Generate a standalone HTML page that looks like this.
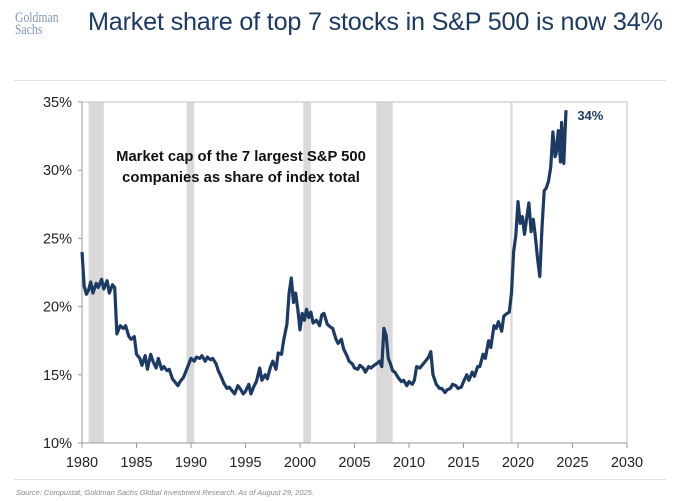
<!DOCTYPE html>
<html><head><meta charset="utf-8"><style>
body{margin:0;background:#fff;width:680px;height:501px;overflow:hidden;position:relative;font-family:"Liberation Sans",sans-serif}
.abs{position:absolute}
</style></head><body>
<div class="abs" style="left:15px;top:12px;font-family:'Liberation Serif',serif;color:#8198bb;font-size:15px;line-height:12px;transform:scaleX(0.78);transform-origin:left top">Goldman<br>Sachs</div>
<div class="abs" style="left:88px;top:8px;font-size:25.2px;color:#1c3a63;letter-spacing:-0.2px">Market share of top 7 stocks in S&amp;P 500 is now 34%</div>
<div class="abs" style="left:14px;top:80px;width:652px;height:1px;background:#e3e3e3"></div>
<div class="abs" style="left:14px;top:479px;width:652px;height:1px;background:#e3e3e3"></div>
<div class="abs" style="left:16px;top:488px;font-size:7.5px;font-style:italic;color:#888">Source: Compustat, Goldman Sachs Global Investment Research. As of August 29, 2025.</div>
<svg class="abs" style="left:0;top:0" width="680" height="501" id="chart"></svg>
<script>
const xTicks=[1980,1985,1990,1995,2000,2005,2010,2015,2020,2025,2030];
const yTicks=[10,15,20,25,30,35];
const recessionStart=[1980.6,1989.6,2000.3,2007.0,2019.3];
const recessionEnd=[1982.0,1990.3,2001.0,2008.5,2019.5];
const years=[1980.0,1980.2,1980.4,1980.6,1980.8,1981,1981.3,1981.5,1981.8,1982,1982.3,1982.5,1982.8,1983,1983.2,1983.5,1983.8,1984,1984.3,1984.5,1984.8,1985,1985.3,1985.5,1985.8,1986,1986.3,1986.5,1986.8,1987,1987.3,1987.5,1987.8,1988,1988.3,1988.5,1988.8,1989,1989.3,1989.5,1989.8,1990,1990.3,1990.5,1990.8,1991,1991.3,1991.5,1991.8,1992,1992.3,1992.5,1992.8,1993,1993.3,1993.5,1993.8,1994,1994.3,1994.5,1994.8,1995,1995.3,1995.5,1995.8,1996,1996.3,1996.5,1996.8,1997,1997.3,1997.5,1997.8,1998,1998.3,1998.5,1998.8,1999,1999.2,1999.4,1999.6,1999.8,2000,2000.2,2000.4,2000.6,2000.8,2001,2001.2,2001.5,2001.8,2002,2002.2,2002.5,2002.8,2003,2003.3,2003.5,2003.8,2004,2004.3,2004.5,2004.8,2005,2005.3,2005.5,2005.8,2006,2006.3,2006.5,2006.8,2007,2007.3,2007.5,2007.7,2007.9,2008.1,2008.3,2008.5,2008.7,2009,2009.3,2009.5,2009.8,2010,2010.3,2010.5,2010.7,2011,2011.3,2011.5,2011.8,2012,2012.2,2012.5,2012.8,2013,2013.3,2013.5,2013.8,2014,2014.3,2014.5,2014.8,2015,2015.3,2015.5,2015.8,2016,2016.3,2016.5,2016.8,2017,2017.3,2017.5,2017.8,2018,2018.2,2018.5,2018.7,2019,2019.2,2019.4,2019.6,2019.8,2020,2020.2,2020.4,2020.6,2020.8,2021,2021.2,2021.4,2021.6,2021.8,2022,2022.2,2022.4,2022.6,2022.8,2023,2023.2,2023.4,2023.5,2023.7,2023.9,2024,2024.2,2024.4,2024.5,2024.6,2024.8];
const share=[24.0,21.5,20.9,21.2,21.8,21.0,21.7,21.4,22.0,21.3,21.9,21.0,21.6,21.4,18.0,18.6,18.4,18.6,17.8,17.6,17.8,16.5,16.2,15.7,16.4,15.4,16.5,16.0,15.5,16.2,15.4,15.6,15.3,15.4,14.7,14.5,14.2,14.5,14.8,15.2,15.8,16.2,16.0,16.3,16.2,16.4,16.0,16.3,16.1,16.2,15.8,15.3,14.8,14.4,14.0,14.1,13.8,13.6,14.2,14.0,13.6,13.8,14.3,13.6,14.2,14.5,15.5,14.6,15.0,14.7,15.6,16.0,15.4,16.6,16.5,17.5,18.7,21.0,22.1,20.3,21.0,19.8,18.3,19.5,19.0,19.8,19.2,19.6,18.8,19.0,18.6,19.4,19.5,18.7,18.5,18.4,17.6,17.3,17.6,16.9,16.4,16.0,15.8,15.5,15.4,15.7,15.5,15.2,15.6,15.5,15.7,15.8,16.0,15.6,18.4,17.9,16.2,15.8,15.3,15.2,14.8,14.5,14.6,14.2,14.5,14.3,14.6,15.6,15.5,15.8,16.0,16.3,16.7,15.0,14.3,14.0,14.0,13.7,13.9,14.0,14.3,14.2,14.0,14.1,14.5,15.0,14.6,15.2,14.9,15.6,15.6,16.5,16.2,17.5,17.0,18.6,18.4,18.9,18.2,19.3,19.5,19.6,21.0,24.0,25.2,27.7,26.1,26.6,25.3,26.5,27.6,25.5,26.4,25.1,23.5,22.2,25.8,28.5,28.7,29.2,30.2,32.8,31.0,31.2,32.9,30.6,33.5,30.5,34.4];
const X0=82,X1=627,Y0=443,Y1=102;
const xs=v=>X0+(v-1980)/50*(X1-X0);
const ys=v=>Y0-(v-10)/25*(Y0-Y1);
const svg=document.getElementById('chart');
const NS='http://www.w3.org/2000/svg';
function mk(t,a){const e=document.createElementNS(NS,t);for(const k in a)e.setAttribute(k,a[k]);svg.appendChild(e);return e;}
for(let i=0;i<recessionStart.length;i++){
 const r=mk('rect',{x:xs(recessionStart[i]),y:Y1,width:Math.max(2,xs(recessionEnd[i])-xs(recessionStart[i])),height:Y0-Y1,fill:'#d9d9d9'});
 
 
}
const fr=mk('rect',{x:X0,y:Y1,width:X1-X0,height:Y0-Y1,fill:'none',stroke:'#bfbfbf','stroke-width':1});


mk('line',{x1:X0,y1:Y1,x2:X0,y2:Y0,stroke:'#999'});
mk('line',{x1:X0,y1:Y0,x2:X1,y2:Y0,stroke:'#999'});
yTicks.forEach(v=>{
 mk('line',{x1:X0-4,y1:ys(v),x2:X0,y2:ys(v),stroke:'#999'});
 const t=mk('text',{x:X0-10,y:ys(v)+5,'text-anchor':'end','font-size':14.5,fill:'#222'});
 t.textContent=v+'%';
 
 
});
xTicks.forEach(v=>{
 mk('line',{x1:xs(v),y1:Y0,x2:xs(v),y2:Y0+5,stroke:'#999'});
 const t=mk('text',{x:xs(v),y:Y0+24,'text-anchor':'middle','font-size':14.5,fill:'#222'});
 t.textContent=v;
 
 
});
const p=mk('path',{d:years.map((y,i)=>(i?'L':'M')+xs(y).toFixed(1)+','+ys(share[i]).toFixed(1)).join(''),fill:'none',stroke:'#1c3a63','stroke-width':3.2,'stroke-linejoin':'round'});


const lab=mk('text',{x:xs(years[years.length-1])+7,y:ys(share[share.length-1])+10,'font-size':13,'font-weight':'bold',fill:'#1c3a63'});
lab.textContent='34%';


['Market cap of the 7 largest S&P 500','companies as share of index total'].forEach((s,i)=>{
 const t=mk('text',{x:241,y:161+i*21,'text-anchor':'middle','font-size':14.8,'font-weight':'bold',fill:'#111'});
 t.textContent=s;
 
 
});
</script>
</body></html>
